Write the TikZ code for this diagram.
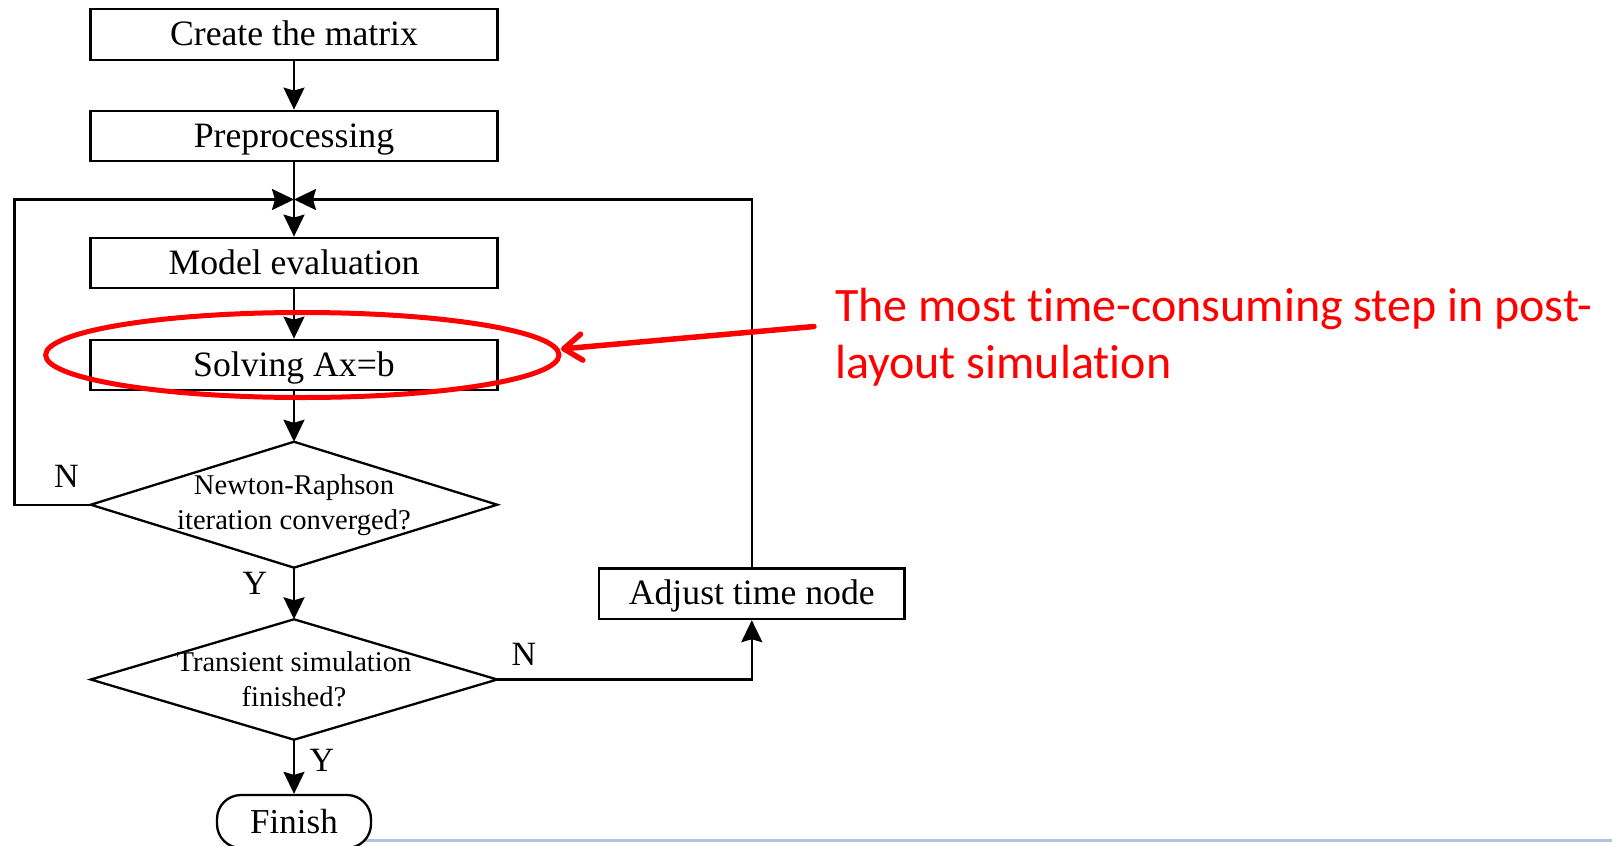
\documentclass[tikz,border=0pt]{standalone}
\usepackage{fontspec}
\setmainfont{Liberation Serif}
\newfontfamily\calib[Ligatures=NoCommon]{Carlito}
\usetikzlibrary{arrows.meta,shapes.geometric}
\definecolor{slideblue}{RGB}{173,196,224}
\begin{document}
\begin{tikzpicture}[x=1pt,y=-1pt,
  box/.style={draw, line width=2.3pt, minimum width=407pt, minimum height=50.5pt, inner sep=0pt,
    text height=26pt, text depth=4pt, font=\fontsize{35.7}{40}\selectfont},
  dtext/.style={minimum width=406pt, inner sep=0pt, align=center,
    font=\fontsize{28.6}{35}\selectfont},
  link/.style={line width=2.3pt},
  arr/.style={line width=2.3pt, -{Stealth[length=22pt,width=21pt,inset=3pt]}},
  lbl/.style={inner sep=0pt, font=\fontsize{34}{40}\selectfont},
  note/.style={inner sep=0pt, anchor=base west, text=red, font=\calib\fontsize{48}{57}\selectfont},
  redline/.style={draw=red, line width=5pt},
  redarr/.style={draw=red, line width=5.5pt, line cap=round, line join=round,
    -{Straight Barb[length=18pt,width=26pt,line cap=round,line join=round]}}
]
\useasboundingbox (0,0) rectangle (1612,846);

% slide line
\coordinate (bl1) at (365,840.5);
\coordinate (bl2) at (1612,840.5);
\draw[slideblue, line width=2.7pt] (bl1) -- (bl2);

% boxes
\node[box] (create) at (294,34.5) {Create the matrix};
\node[box] (pre) at (294,136) {Preprocessing};
\node[box] (model) at (294,263) {Model evaluation};
\node[box] (solve) at (294,365) {Solving Ax=b};
\node[box, minimum width=305.6pt] (adj) at (751.8,593.8) {Adjust time node};

% diamonds
\node[dtext, minimum height=125.5pt] (d1) at (294,504.7) {Newton-Raphson\\iteration converged?};
\draw[link, line join=miter] (d1.west) -- (d1.north) -- (d1.east) -- (d1.south) -- cycle;
\node[dtext, minimum height=120pt] (d2) at (294,679.5) {Transient simulation\\finished?};
\draw[link, line join=miter] (d2.west) -- (d2.north) -- (d2.east) -- (d2.south) -- cycle;

% finish
\node[draw, line width=2.3pt, rounded corners=24pt, minimum width=154pt, minimum height=53pt,
  inner sep=0pt, font=\fontsize{35}{40}\selectfont] (fin) at (294,821.5) {Finish};

% junction
\coordinate (j) at (294,199.5);
\coordinate (lc) at (14.5,199.5);

% connectors
\draw[arr] (create) -- (pre);
\draw[arr] (pre) -- (model);
\draw[arr] (d1.west) -| (lc) -- (j);
\draw[arr] (adj.north) |- (j);
\draw[arr] (model) -- (solve);
\draw[arr] (solve) -- (d1.north);
\draw[arr] (d1.south) -- (d2.north);
\draw[arr] (d2.south) -- (fin.north);
\draw[arr] (d2.east) -| (adj.south);

% labels
\node[lbl] (n1) at (66.5,476) {N};
\node[lbl] (y1) at (255,583) {Y};
\node[lbl] (n2) at (524,654) {N};
\node[lbl] (y2) at (322,760) {Y};

% annotation
\coordinate (hlc) at (302.3,355);
\draw[redline] (hlc) ellipse [x radius=256.7, y radius=42.5];
\coordinate (hltip) at (561,349);
\node[note] (note1) at (835,321.7) {The most time-consuming step in post-};
\node[note] (note2) at (835,378.5) {layout simulation};
\coordinate (ns) at (814,326.5);
\draw[redarr] (ns) -- (hltip);
\end{tikzpicture}
\end{document}
